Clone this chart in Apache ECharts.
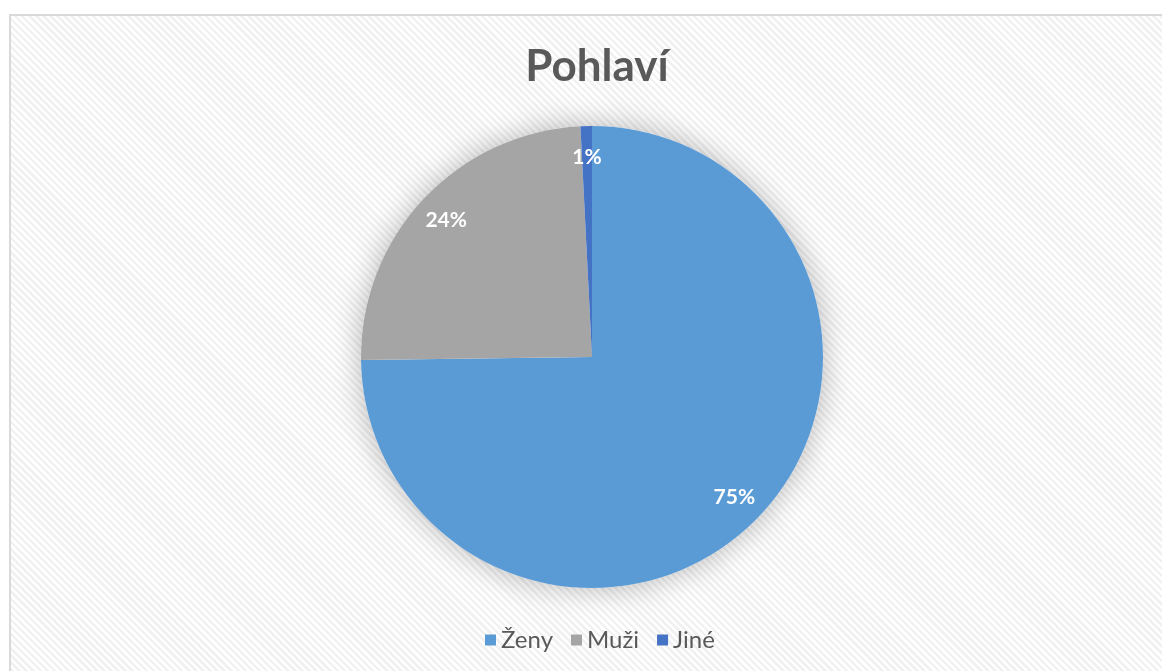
<!DOCTYPE html>
<html>
<head>
<meta charset="utf-8">
<script src="https://cdn.jsdelivr.net/npm/echarts@6/dist/echarts.min.js"></script>
<style>
  html, body { margin: 0; padding: 0; background: #fff; overflow: hidden; }
  #box {
    position: absolute; left: 9px; top: 14px; width: 1170px; height: 680px;
    border: 2px solid #d9d9d9;
    background: repeating-linear-gradient(45deg, #ffffff 0px, #ffffff 2.5px, #f1f1f1 2.5px, #f1f1f1 5px);
  }
  #chart { position: absolute; left: 0; top: 0; width: 1162px; height: 671px; }
</style>
</head>
<body>
<div id="box"></div>
<div id="chart"></div>
<script>
  // data
  const categories = ['Ženy', 'Muži', 'Jiné']
  const values = [74.8, 24.4, 0.8]
  const colors = ['#5b9bd5', '#a5a5a5', '#4472c4']

  const pieData = categories.map((name, i) => ({ name: name, value: values[i] }))

  const chart = echarts.init(document.getElementById('chart'))
  const center = [592, 357]
  const option = {
    backgroundColor: 'transparent',
    color: colors,
    animation: false,
    title: {
      text: 'Pohlaví',
      left: 592,
      top: 40,
      textAlign: 'center',
      textStyle: { fontFamily: 'Lato', fontWeight: 'bold', fontSize: 44, color: '#595959' },
    },
    legend: {
      data: categories,
      left: 480,
      top: 623,
      icon: 'rect',
      itemWidth: 11,
      itemHeight: 11,
      itemGap: 18,
      textStyle: { fontFamily: 'Lato', fontSize: 24, color: '#595959' },
    },
    series: [
      {
        // shadow disc behind the pie
        type: 'pie',
        silent: true,
        center: center,
        radius: [0, 231],
        label: { show: false },
        itemStyle: { color: '#fff', shadowBlur: 30, shadowColor: 'rgba(0,0,0,0.28)' },
        data: [{ name: '', value: 1 }],
        legendHoverLink: false,
        z: 1,
      },
      {
        type: 'pie',
        center: center,
        radius: [0, 231],
        startAngle: 90,
        label: { show: false },
        labelLine: { show: false },
        itemStyle: { borderWidth: 0 },
        data: pieData,
        z: 2,
      },
      {
        // label ring
        type: 'pie',
        silent: true,
        center: center,
        radius: [165, 229],
        startAngle: 90,
        itemStyle: { color: 'rgba(0,0,0,0)' },
        label: {
          show: true,
          position: 'inside',
          formatter: p => Math.round(p.percent) + '%',
          color: '#fff',
          fontFamily: 'Lato',
          fontWeight: 'bold',
          fontSize: 21,
        },
        labelLine: { show: false },
        data: pieData,
        z: 3,
      },
    ],
  }
  chart.setOption(option)
</script>
</body>
</html>
